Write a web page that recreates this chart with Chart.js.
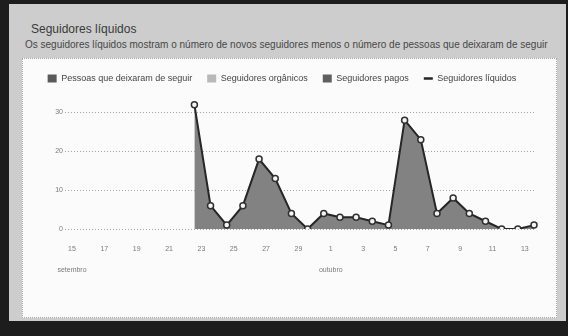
<!DOCTYPE html>
<html>
<head>
<meta charset="utf-8">
<script src="https://cdn.jsdelivr.net/npm/chart.js@4/dist/chart.umd.min.js"></script>
<style>
  html, body { margin: 0; padding: 0; }
  body { width: 568px; height: 336px; background: #1d1d1d; position: relative; overflow: hidden;
         font-family: "Liberation Sans", Arial, sans-serif; }
  .frame { position: absolute; left: 9px; top: 4px; width: 557px; height: 317px; background: #cdcdcd; }
  .panel { position: absolute; left: 22px; top: 58px; width: 533px; height: 258px; background: #fbfbfb;
           border: 1px dotted #a8a8a8; }
  .title { position: absolute; left: 31px; top: 22px; font-size: 12px; color: #3a3a3a; }
  .subtitle { position: absolute; left: 25px; top: 39px; font-size: 10px; color: #474747; white-space: nowrap; }
  #chart { position: absolute; left: 0; top: 0; }
</style>
</head>
<body>
<div class="frame"></div>
<div class="panel"></div>
<div class="title">Seguidores líquidos</div>
<div class="subtitle">Os seguidores líquidos mostram o número de novos seguidores menos o número de pessoas que deixaram de seguir</div>
<canvas id="chart" width="568" height="336"></canvas>
<script>
// days shown on the x axis (15 set - 14 out)
const days = ['15','16','17','18','19','20','21','22','23','24','25','26','27','28','29','30',
              '1','2','3','4','5','6','7','8','9','10','11','12','13','14'];
const monthLabels = { 0: 'setembro', 16: 'outubro' };
const yTicks = [0, 10, 20, 30];

// series
const unfollows = [];
const organic = [];
const paid = [];
const netFollowers = [null, null, null, null, null, null, null, null,
  32, 6, 1, 6, 18, 13, 4, 0, 4, 3, 3, 2, 1, 28, 23, 4, 8, 4, 2, 0, 0, 1];

const ctx = document.getElementById('chart').getContext('2d');

const chart = new Chart(ctx, {
    type: 'bar',
    data: {
        labels: days,
        datasets: [
            { label: 'Pessoas que deixaram de seguir', data: unfollows, backgroundColor: '#5a5a5a' },
            { label: 'Seguidores orgânicos', data: organic, backgroundColor: '#b9b9b9' },
            { label: 'Seguidores pagos', data: paid, backgroundColor: '#5f5f5f' },
            {
                type: 'line',
                label: 'Seguidores líquidos',
                data: netFollowers,
                borderColor: '#262626',
                borderWidth: 2,
                backgroundColor: '#828282',
                fill: 'origin',
                tension: 0,
                pointRadius: 3,
                pointBorderWidth: 1.5,
                pointBackgroundColor: '#f4f4f4',
                pointBorderColor: '#303030'
            }
        ]
    },
    options: {
        responsive: false,
        animation: false,
        layout: { padding: { left: 30, right: 34, top: 59, bottom: 45 } },
        plugins: {
            tooltip: { enabled: false },
            legend: {
                position: 'top',
                labels: {
                    usePointStyle: true,
                    pointStyleWidth: 9,
                    boxHeight: 8,
                    padding: 15,
                    color: '#444',
                    font: { family: 'Liberation Sans', size: 9 },
                    generateLabels: (c) => {
                        const items = Chart.defaults.plugins.legend.labels.generateLabels(c);
                        items.forEach((it) => {
                            if (it.datasetIndex < 3) {
                                it.pointStyle = 'rect';
                                it.lineWidth = 0;
                            } else {
                                it.pointStyle = 'line';
                                it.strokeStyle = '#262626';
                                it.lineWidth = 2.5;
                            }
                        });
                        return items;
                    }
                }
            }
        },
        scales: {
            x: {
                offset: false,
                grid: { display: false, drawTicks: false },
                border: { display: false },
                ticks: {
                    autoSkip: false,
                    maxRotation: 0,
                    padding: 10,
                    labelOffset: 7,
                    color: '#7a7a7a',
                    font: { family: 'Liberation Sans', size: 7, lineHeight: 3 },
                    callback: (value, index) => {
                        if (index % 2 !== 0) return '';
                        return monthLabels[index] ? [days[index], monthLabels[index]] : days[index];
                    }
                }
            },
            y: {
                min: 0,
                max: 35,
                afterBuildTicks: (scale) => { scale.ticks = yTicks.map(v => ({ value: v })); },
                afterFit: (scale) => { scale.width = 35; },
                grid: { color: '#a5a5a5', drawTicks: false },
                border: { display: false, dash: [1, 2] },
                ticks: {
                    padding: 2,
                    color: '#7a7a7a',
                    font: { family: 'Liberation Sans', size: 7 }
                }
            }
        }
    }
});
</script>
</body>
</html>
